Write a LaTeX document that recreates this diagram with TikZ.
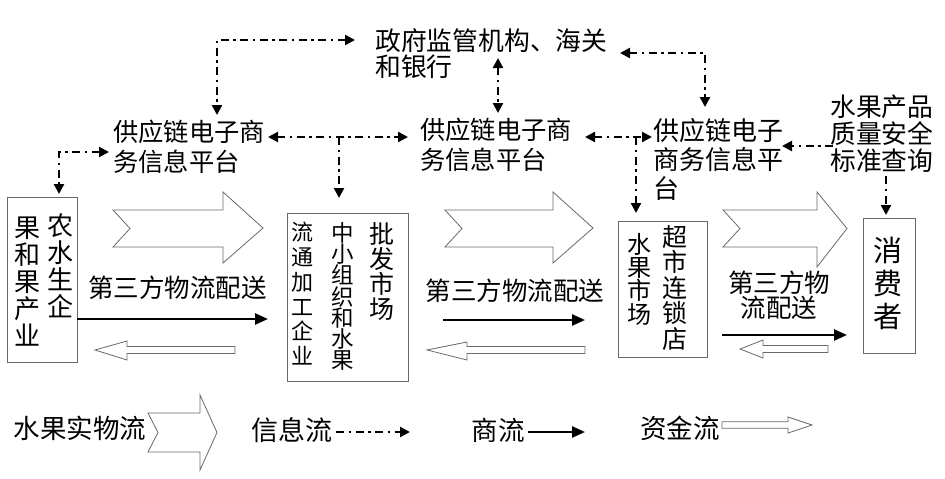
\documentclass[tikz,border=0pt]{standalone}
\usepackage{fontspec}
\newfontfamily\cjk{Noto Sans CJK SC}
\usetikzlibrary{arrows.meta}
\definecolor{bx}{RGB}{105,105,105}
\begin{document}
\begin{tikzpicture}[x=1pt,y=-1pt,
  txt/.style 2 args={font=\cjk\fontsize{#1}{#2}\selectfont, inner sep=0pt, align=left, anchor=north west},
  vcol/.style 2 args={font=\cjk\fontsize{#1}{#2}\selectfont, inner sep=0pt, align=center, anchor=north},
  lab/.style={font=\cjk\fontsize{25.5}{25}\selectfont, inner sep=0pt, align=center},
  box/.style={draw=bx, line width=1pt, inner sep=0pt},
  bigarrow/.style={draw=bx, line width=0.8pt, fill=white, line join=miter},
  hollow/.style={draw=bx, line width=0.8pt, fill=white},
  info/.style={line width=2.3pt, dash pattern=on 8pt off 4.5pt on 2.5pt off 4.5pt, >={Triangle[length=10pt,width=10pt]}},
  comm/.style={line width=2.5pt, >={Triangle[length=13pt,width=11pt]}, ->}]
\useasboundingbox (0,0) rectangle (945,479);

% ---- text nodes (top) ----
\node[txt={25.8}{26}] (gov) at (375,28) {政府监管机构、海关\\和银行};
\node[txt={25.3}{30}] (p1) at (113,120) {供应链电子商\\务信息平台};
\node[txt={25.3}{30}] (p2) at (420,118) {供应链电子商\\务信息平台};
\node[txt={26}{29}] (p3) at (653,118) {供应链电子\\商务信息平\\台};
\node[txt={25.8}{27}] (q) at (830,95) {水果产品\\质量安全\\标准查询};

% ---- boxes ----
\node[box, minimum width=70pt, minimum height=165pt] (b1) at (42,279.5) {};
\node[box, minimum width=121pt, minimum height=168pt] (b2) at (347.5,297) {};
\node[box, minimum width=89pt, minimum height=136pt] (b3) at (662.5,289) {};
\node[box, minimum width=52pt, minimum height=135pt] (b4) at (889,285.5) {};

% box texts
\node[vcol={26}{27}] (b1a) at (27,217) {果\\和\\果\\产\\业};
\node[vcol={26}{27}] (b1b) at (60,213) {农\\水\\生\\企};
\node[vcol={22}{24.8}] (b2a) at (302,222) {流\\通\\加\\工\\企\\业};
\node[vcol={22.5}{21.3}] (b2b) at (343,222) {中\\小\\组\\织\\和\\水\\果};
\node[vcol={25}{25}] (b2c) at (382,222) {批\\发\\市\\场};
\node[vcol={24}{23.3}] (b3a) at (639,233) {水\\果\\市\\场};
\node[vcol={25}{25.5}] (b3b) at (675,225) {超\\市\\连\\锁\\店};
\node[vcol={29}{33}] (b4a) at (888,237) {消\\费\\者};

% ---- big hollow (physical flow) arrows ----
\draw[bigarrow] (113,210) -- (223,210) -- (223,192) -- (263,228) -- (223,263) -- (223,247) -- (113,247) -- (130,228.5) -- cycle;
\draw[bigarrow] (445,210) -- (553,210) -- (553,192) -- (593,228) -- (553,263) -- (553,247) -- (445,247) -- (462,228.5) -- cycle;
\draw[bigarrow] (723,210) -- (817,210) -- (817,192) -- (847,228.5) -- (817,267) -- (817,247) -- (723,247) -- (740,228.5) -- cycle;

% ---- logistics labels ----
\node[lab] (l1) at (177.5,288) {第三方物流配送};
\node[lab] (l2) at (515,291) {第三方物流配送};
\node[lab] (l3) at (779,295) {第三方物\\流配送};

% ---- commerce (solid) arrows ----
\coordinate (s1a) at (77,319);  \coordinate (s1b) at (268,319);
\coordinate (s2a) at (443,320); \coordinate (s2b) at (585,320);
\coordinate (s3a) at (722,335); \coordinate (s3b) at (847,335);
\draw[comm] (s1a) -- (s1b);
\draw[comm] (s2a) -- (s2b);
\draw[comm] (s3a) -- (s3b);

% ---- money (thin hollow) arrows ----
\draw[hollow] (235,346.5) -- (127,346.5) -- (127,341) -- (95,350) -- (127,360) -- (127,353.5) -- (235,353.5) -- cycle;
\draw[hollow] (585,346.5) -- (467,346.5) -- (467,342) -- (427,350) -- (467,360) -- (467,353.5) -- (585,353.5) -- cycle;
\draw[hollow] (828,345.5) -- (763,345.5) -- (763,340) -- (740,349) -- (763,358) -- (763,352.5) -- (828,352.5) -- cycle;

% ---- information flow (dash-dot) ----
\coordinate (i1a) at (355,40);  \coordinate (i1c) at (217,40);  \coordinate (i1b) at (217,115);
\draw[info,<->] (i1a) -- (i1c) -- (i1b);
\coordinate (i2a) at (498,58);  \coordinate (i2b) at (498,113);
\draw[info,<->] (i2a) -- (i2b);
\coordinate (i3a) at (620,53);  \coordinate (i3c) at (705,53);  \coordinate (i3b) at (705,107);
\draw[info,<->] (i3a) -- (i3c) -- (i3b);
\coordinate (i4a) at (268,137); \coordinate (i4b) at (408,137);
\draw[info,<->] (i4a) -- (i4b);
\coordinate (i4m) at (339,137); \coordinate (i4d) at (339,198);
\draw[info,->] (i4m) -- (i4d);
\coordinate (i5a) at (109,152); \coordinate (i5c) at (59,152);  \coordinate (i5b) at (59,194);
\draw[info,<->] (i5a) -- (i5c) -- (i5b);
\coordinate (i6a) at (585,137); \coordinate (i6b) at (652,137);
\draw[info,<->] (i6a) -- (i6b);
\coordinate (i6m) at (636,137); \coordinate (i6d) at (636,213);
\draw[info,->] (i6m) -- (i6d);
\coordinate (i7a) at (833,146); \coordinate (i7b) at (782,146);
\draw[info,->] (i7a) -- (i7b);
\coordinate (i8a) at (886,176); \coordinate (i8b) at (886,215);
\draw[info,->] (i8a) -- (i8b);

% ---- legend ----
\node[lab, font=\cjk\fontsize{26.5}{26}\selectfont] (lg1) at (80,428) {水果实物流};
\draw[bigarrow] (148,413) -- (200,413) -- (200,395) -- (217,432.5) -- (200,470) -- (200,452) -- (148,452) -- (158,432.5) -- cycle;
\node[lab, font=\cjk\fontsize{27}{26}\selectfont] (lg2) at (292,430) {信息流};
\coordinate (lg2a) at (336,432); \coordinate (lg2b) at (410,432);
\draw[info,->] (lg2a) -- (lg2b);
\node[lab, font=\cjk\fontsize{26.5}{26}\selectfont] (lg3) at (498,430) {商流};
\coordinate (lg3a) at (528,432); \coordinate (lg3b) at (585,432);
\draw[comm] (lg3a) -- (lg3b);
\node[lab, font=\cjk\fontsize{26.5}{26}\selectfont] (lg4) at (680,428) {资金流};
\draw[hollow] (722,421.7) -- (788,421.7) -- (788,417) -- (812,425) -- (788,433) -- (788,428.3) -- (722,428.3) -- cycle;
\end{tikzpicture}
\end{document}
